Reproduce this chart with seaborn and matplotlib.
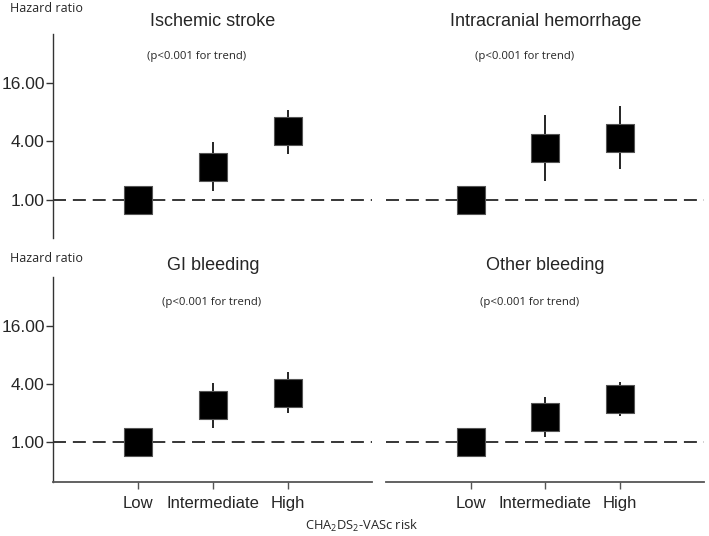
import matplotlib
matplotlib.use("Agg")
import matplotlib.pyplot as plt
import seaborn as sns
import pandas as pd
from matplotlib.ticker import FixedLocator, FixedFormatter, NullLocator

categories = ["Low", "Intermediate", "High"]
titles = ["Ischemic stroke", "Intracranial hemorrhage", "GI bleeding", "Other bleeding"]
hr_ischemic = [1.0, 2.19, 5.06]
lo_ischemic = [1.0, 1.22, 2.98]
hi_ischemic = [1.0, 3.93, 8.45]
hr_ich = [1.0, 3.40, 4.33]
lo_ich = [1.0, 1.57, 2.05]
hi_ich = [1.0, 7.45, 9.17]
hr_gi = [1.0, 2.40, 3.23]
lo_gi = [1.0, 1.40, 1.98]
hi_gi = [1.0, 4.09, 5.28]
hr_other = [1.0, 1.82, 2.78]
lo_other = [1.0, 1.135, 1.86]
hi_other = [1.0, 2.95, 4.22]
ytick_vals = [1, 4, 16]
ytick_labels = ["1.00", "4.00", "16.00"]
ptext = "(p<0.001 for trend)"
ylabel_text = "Hazard ratio"
xlabel_text = r"CHA$\mathregular{_2}$DS$\mathregular{_2}$-VASc risk"

series = [
    (hr_ischemic, lo_ischemic, hi_ischemic),
    (hr_ich, lo_ich, hi_ich),
    (hr_gi, lo_gi, hi_gi),
    (hr_other, lo_other, hi_other),
]

sns.set_style("ticks")
plt.rcParams["font.family"] = ["Liberation Sans", "DejaVu Sans"]

W, H = 709, 536
fig = plt.figure(figsize=(W / 100, H / 100), dpi=100)

def fx(px):
    return px / W

def fy(py):
    return 1 - py / H

# axes rectangles in pixel coordinates (left, top, right, bottom)
rects = [
    (53, 34, 372, 238),
    (386, 34, 704, 238),
    (53, 277, 372, 482),
    (386, 277, 704, 482),
]
ylims = [(0.40, 51.5), (0.40, 51.5), (0.385, 51.0), (0.385, 51.0)]
p_pos = [(197, 57), (525, 57), (212, 302), (530, 303)]
small_font = ["Open Sans", "DejaVu Sans"]

for i, ((l, t, r, b), (hr, lo, hi)) in enumerate(zip(rects, series)):
    ax = fig.add_axes([fx(l), fy(b), fx(r - l), (b - t) / H])
    df = pd.DataFrame({"risk": categories, "hr": hr, "lo": lo, "hi": hi})
    ax.set_yscale("log", base=2)
    ax.axhline(1.0, color="black", lw=1.1, linestyle=(0, (8.5, 4.5)), zorder=1)
    ax.vlines(range(len(categories)), df["lo"], df["hi"], color="black", lw=1.2, zorder=2)
    sns.scatterplot(data=df, x="risk", y="hr", marker="s", s=400, color="black",
                    edgecolor="#555555", linewidth=0.8, ax=ax, zorder=3, legend=False)
    ax.set_xlim(-1.14, 3.13)
    ax.set_ylim(*ylims[i])
    ax.set_xlabel("")
    ax.set_ylabel("")
    ax.spines["top"].set_visible(False)
    ax.spines["right"].set_visible(False)
    left = i % 2 == 0
    bottom = i >= 2
    if left:
        ax.spines["left"].set_color("#333333")
        ax.spines["left"].set_linewidth(1.0)
        ax.yaxis.set_major_locator(FixedLocator(ytick_vals))
        ax.yaxis.set_major_formatter(FixedFormatter(ytick_labels))
        ax.yaxis.set_minor_locator(NullLocator())
        ax.tick_params(axis="y", length=5, width=1.0, color="#333333", labelsize=12.5, pad=1)
    else:
        ax.spines["left"].set_visible(False)
        ax.set_yticks([])
        ax.yaxis.set_minor_locator(NullLocator())
    if bottom:
        ax.spines["bottom"].set_color("#555555")
        ax.spines["bottom"].set_linewidth(1.3)
        ax.set_xticks(range(len(categories)))
        ax.set_xticklabels(categories)
        ax.tick_params(axis="x", length=5, width=1.0, color="#555555", labelsize=12, pad=5)
    else:
        ax.spines["bottom"].set_visible(False)
        ax.set_xticks([])
    ax.set_facecolor("none")
    # title centered above the middle category
    title_y = 21 if i < 2 else 265
    mid_px = l + (1 - (-1.14)) / (3.13 - (-1.14)) * (r - l)
    fig.text(fx(mid_px), fy(title_y), titles[i], ha="center", va="center", fontsize=13)
    fig.text(fx(p_pos[i][0]), fy(p_pos[i][1]), ptext, ha="center", va="center",
             fontsize=8.1, family=small_font)

fig.text(fx(10), fy(8), ylabel_text, ha="left", va="center", fontsize=9, family=small_font)
fig.text(fx(10), fy(259), ylabel_text, ha="left", va="center", fontsize=9, family=small_font)
fig.text(fx(362), fy(526), xlabel_text, ha="center", va="center", fontsize=9.3, family=small_font)

fig.savefig("out.png", dpi=100)
